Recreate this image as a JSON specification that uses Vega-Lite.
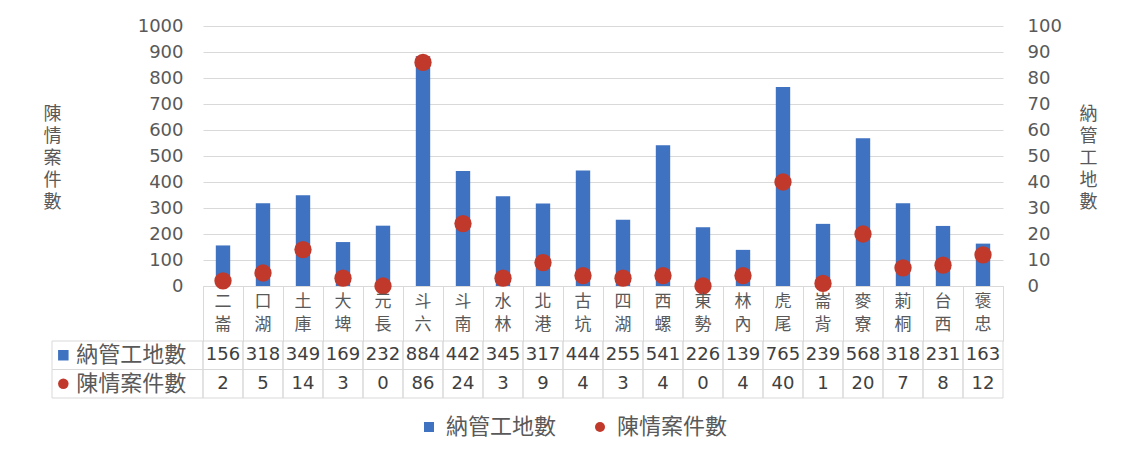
{
  "$schema": "https://vega.github.io/schema/vega-lite/v6.json",
  "width": 800,
  "height": 260,
  "autosize": {"type": "none"},
  "padding": {"left": 203, "top": 26, "right": 129, "bottom": 170},
  "background": "white",
  "config": {"view": {"stroke": null}, "font": "DejaVu Sans, Noto Sans CJK TC", "text": {"font": "DejaVu Sans, Noto Sans CJK TC"}},
  "datasets": {
    "main": [
      {"name": "二\n崙", "納管工地數": 156, "陳情案件數": 2},
      {"name": "口\n湖", "納管工地數": 318, "陳情案件數": 5},
      {"name": "土\n庫", "納管工地數": 349, "陳情案件數": 14},
      {"name": "大\n埤", "納管工地數": 169, "陳情案件數": 3},
      {"name": "元\n長", "納管工地數": 232, "陳情案件數": 0},
      {"name": "斗\n六", "納管工地數": 884, "陳情案件數": 86},
      {"name": "斗\n南", "納管工地數": 442, "陳情案件數": 24},
      {"name": "水\n林", "納管工地數": 345, "陳情案件數": 3},
      {"name": "北\n港", "納管工地數": 317, "陳情案件數": 9},
      {"name": "古\n坑", "納管工地數": 444, "陳情案件數": 4},
      {"name": "四\n湖", "納管工地數": 255, "陳情案件數": 3},
      {"name": "西\n螺", "納管工地數": 541, "陳情案件數": 4},
      {"name": "東\n勢", "納管工地數": 226, "陳情案件數": 0},
      {"name": "林\n內", "納管工地數": 139, "陳情案件數": 4},
      {"name": "虎\n尾", "納管工地數": 765, "陳情案件數": 40},
      {"name": "崙\n背", "納管工地數": 239, "陳情案件數": 1},
      {"name": "麥\n寮", "納管工地數": 568, "陳情案件數": 20},
      {"name": "莿\n桐", "納管工地數": 318, "陳情案件數": 7},
      {"name": "台\n西", "納管工地數": 231, "陳情案件數": 8},
      {"name": "褒\n忠", "納管工地數": 163, "陳情案件數": 12}
    ],
    "hdr": [
      {"series": "納管工地數"},
      {"series": "陳情案件數"}
    ]
  },
  "layer": [
    {
      "data": {"name": "main"},
      "layer": [
        {
          "mark": {"type": "bar", "color": "#3F72C0", "width": {"band": 0.36}},
          "encoding": {
            "x": {
              "field": "name", "type": "nominal", "sort": null,
              "scale": {"paddingInner": 0, "paddingOuter": 0},
              "axis": {
                "title": null, "orient": "bottom", "domain": true, "domainColor": "#d9d9d9",
                "ticks": true, "tickBand": "extent", "tickSize": 55, "tickColor": "#d9d9d9",
                "labels": false, "grid": false
              }
            },
            "y": {
              "field": "納管工地數", "type": "quantitative",
              "scale": {"domain": [0, 1000]},
              "axis": {
                "orient": "left", "format": "d",
                "title": ["陳", "情", "案", "件", "數"], "titleAngle": 0, "titleX": -151, "titleY": 79,
                "titleAlign": "center", "titleBaseline": "top", "titleFontSize": 18,
                "titleFontWeight": "normal", "titleColor": "#595959", "titleLineHeight": 22,
                "titleFont": "Noto Sans CJK TC",
                "values": [0, 100, 200, 300, 400, 500, 600, 700, 800, 900, 1000],
                "grid": true, "gridColor": "#d9d9d9", "domain": false, "ticks": false,
                "labelPadding": 20, "labelFontSize": 18, "labelColor": "#595959"
              }
            }
          }
        },
        {
          "mark": {"type": "point", "shape": "circle", "filled": true, "color": "#C0392B", "size": 300, "opacity": 1},
          "encoding": {
            "x": {"field": "name", "type": "nominal", "sort": null},
            "y": {
              "field": "陳情案件數", "type": "quantitative",
              "scale": {"domain": [0, 100]},
              "axis": {
                "orient": "right",
                "title": ["納", "管", "工", "地", "數"], "titleAngle": 0, "titleX": 85, "titleY": 79,
                "titleAlign": "center", "titleBaseline": "top", "titleFontSize": 18,
                "titleFontWeight": "normal", "titleColor": "#595959", "titleLineHeight": 22,
                "titleFont": "Noto Sans CJK TC",
                "values": [0, 10, 20, 30, 40, 50, 60, 70, 80, 90, 100],
                "grid": false, "domain": false, "ticks": false,
                "labelPadding": 24, "labelFontSize": 18, "labelColor": "#595959"
              }
            }
          }
        },
        {
          "mark": {"type": "text", "lineBreak": "\n", "lineHeight": 23, "baseline": "top", "fontSize": 17, "color": "#595959", "font": "Noto Sans CJK TC"},
          "encoding": {
            "x": {"field": "name", "type": "nominal", "sort": null},
            "y": {"datum": "cat", "type": "nominal", "scale": {"domain": ["cat"], "range": [258, 278], "paddingInner": 0, "paddingOuter": 0}, "axis": null},
            "text": {"field": "name", "type": "nominal"}
          }
        },
        {
          "transform": [{"fold": ["納管工地數", "陳情案件數"], "as": ["series", "value"]}],
          "layer": [
            {
              "mark": {"type": "rect", "fill": "white", "fillOpacity": 0, "stroke": "#d9d9d9", "strokeWidth": 1},
              "encoding": {
                "x": {"field": "name", "type": "nominal", "sort": null},
                "y": {
                  "field": "series", "type": "nominal",
                  "scale": {"domain": ["納管工地數", "陳情案件數"], "range": [315, 372], "paddingInner": 0, "paddingOuter": 0},
                  "axis": null
                }
              }
            },
            {
              "mark": {"type": "text", "fontSize": 18, "color": "#404040", "baseline": "middle"},
              "encoding": {
                "x": {"field": "name", "type": "nominal", "sort": null},
                "y": {"field": "series", "type": "nominal", "axis": null},
                "text": {"field": "value", "type": "quantitative"}
              }
            }
          ]
        }
      ],
      "resolve": {"scale": {"y": "independent"}}
    },
    {
      "data": {"name": "hdr"},
      "layer": [
        {
          "mark": {"type": "rect", "fill": "white", "fillOpacity": 0, "stroke": "#d9d9d9", "strokeWidth": 1},
          "encoding": {
            "x": {"datum": "h", "type": "nominal", "scale": {"domain": ["h"], "range": [-151, 0], "paddingInner": 0, "paddingOuter": 0}, "axis": null},
            "y": {
              "field": "series", "type": "nominal",
              "scale": {"domain": ["納管工地數", "陳情案件數"], "range": [315, 372], "paddingInner": 0, "paddingOuter": 0},
              "axis": null
            }
          }
        },
        {
          "mark": {"type": "point", "filled": true, "opacity": 1, "size": 110},
          "encoding": {
            "x": {"datum": "h", "type": "nominal", "bandPosition": 0.075, "axis": null},
            "y": {"field": "series", "type": "nominal", "axis": null},
            "color": {
              "field": "series", "type": "nominal",
              "scale": {"domain": ["納管工地數", "陳情案件數"], "range": ["#3F72C0", "#C0392B"]},
              "legend": {
                "orient": "none", "legendX": 215, "legendY": 390, "direction": "horizontal",
                "title": null, "labelFontSize": 22, "labelColor": "#595959", "labelFont": "Noto Sans CJK TC",
                "columnPadding": 32, "labelOffset": 6
              }
            },
            "shape": {
              "field": "series", "type": "nominal",
              "scale": {"domain": ["納管工地數", "陳情案件數"], "range": ["square", "circle"]},
              "legend": {
                "orient": "none", "legendX": 215, "legendY": 390, "direction": "horizontal",
                "title": null, "labelFontSize": 22, "labelColor": "#595959", "labelFont": "Noto Sans CJK TC",
                "columnPadding": 32, "labelOffset": 6
              }
            }
          }
        },
        {
          "mark": {"type": "text", "fontSize": 22, "color": "#595959", "align": "left", "baseline": "middle", "font": "Noto Sans CJK TC"},
          "encoding": {
            "x": {"datum": "h", "type": "nominal", "bandPosition": 0.16, "axis": null},
            "y": {"field": "series", "type": "nominal", "axis": null},
            "text": {"field": "series", "type": "nominal"}
          }
        }
      ]
    }
  ],
  "resolve": {"scale": {"x": "independent", "y": "independent", "color": "independent", "shape": "independent"}}
}
